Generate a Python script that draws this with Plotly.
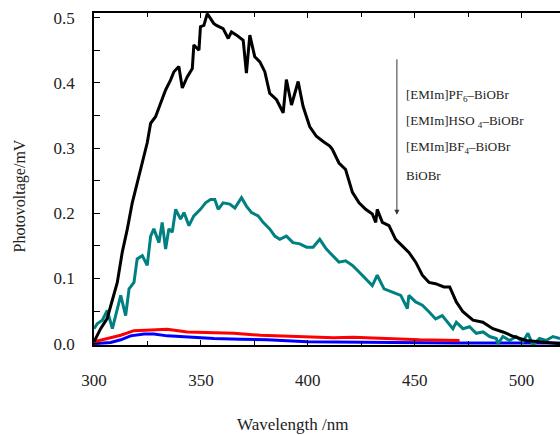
import plotly.graph_objects as go

# ---- data ----
pf6_x = [300, 303.1, 306.2, 308.6, 310.9, 313.2, 315.6, 317.9, 320.2, 322.6, 324.9, 326.5, 328.8,
         331.2, 333.5, 335.8, 337.4, 339.7, 341.3, 343.6, 346.0, 346.7, 349.1, 349.8, 351.4, 353.0,
         356.0, 357.3, 360.4, 362.8, 364.3, 366.7, 369.8, 371.3, 372.9, 375.2, 377.6, 379.9, 382.2,
         385.4, 388.5, 390.0, 392.4, 395.5, 397.8, 400.9, 404.0, 407.2, 410.3, 411.5, 414.6, 417.7,
         420.9, 424.0, 427.1, 430.2, 431.8, 432.5, 434.9, 438.0, 441.1, 444.2, 447.3, 450.5, 453.6,
         456.7, 459.8, 463.7, 466.4, 469.5, 472.6, 477.3, 481.9, 486.6, 491.3, 496.3, 502.2, 508.4, 518.0]
pf6_y = [0.003, 0.023, 0.039, 0.069, 0.094, 0.140, 0.176, 0.216, 0.247, 0.277, 0.308, 0.338, 0.348,
         0.369, 0.389, 0.404, 0.417, 0.425, 0.392, 0.409, 0.422, 0.458, 0.450, 0.486, 0.488, 0.506,
         0.491, 0.488, 0.483, 0.468, 0.478, 0.473, 0.465, 0.415, 0.473, 0.440, 0.432, 0.417, 0.384,
         0.374, 0.354, 0.405, 0.366, 0.402, 0.364, 0.333, 0.318, 0.310, 0.303, 0.298, 0.277, 0.267,
         0.232, 0.216, 0.206, 0.199, 0.186, 0.206, 0.186, 0.181, 0.160, 0.150, 0.140, 0.125, 0.105,
         0.094, 0.092, 0.087, 0.087, 0.064, 0.049, 0.036, 0.033, 0.023, 0.018, 0.011, 0.005, 0.003, 0.000]

hso4_x = [300, 301.6, 303.9, 306.2, 308.6, 310.9, 312.5, 314.8, 316.4, 318.7, 320.2, 322.6, 324.9,
          326.5, 328.0, 330.4, 331.9, 333.5, 335.0, 336.6, 338.2, 340.5, 342.1, 344.4, 346.7, 349.8,
          352.2, 354.5, 356.5, 358.1, 360.4, 363.5, 365.9, 369.0, 371.3, 373.7, 376.8, 379.1, 382.2,
          384.6, 386.9, 390.0, 393.1, 396.3, 399.4, 402.5, 405.6, 408.7, 411.5, 414.6, 417.7, 420.9,
          424.0, 427.1, 430.2, 432.5, 435.7, 439.6, 443.5, 446.6, 447.3, 450.5, 453.6, 456.7, 459.8,
          462.9, 464.8, 467.9, 469.5, 472.6, 475.7, 478.8, 482.0, 485.1, 488.2, 489.0, 491.3, 494.4,
          497.5, 500.6, 503.0, 505.3, 508.4, 511.5, 514.7, 518.0]
hso4_y = [0.023, 0.031, 0.036, 0.051, 0.023, 0.054, 0.074, 0.043, 0.084, 0.094, 0.130, 0.135, 0.120,
          0.165, 0.176, 0.155, 0.186, 0.145, 0.176, 0.171, 0.206, 0.191, 0.201, 0.181, 0.196, 0.206,
          0.216, 0.221, 0.221, 0.206, 0.216, 0.214, 0.208, 0.224, 0.211, 0.201, 0.196, 0.186, 0.176,
          0.165, 0.160, 0.165, 0.155, 0.153, 0.148, 0.148, 0.160, 0.145, 0.135, 0.125, 0.127, 0.120,
          0.110, 0.099, 0.089, 0.105, 0.084, 0.079, 0.074, 0.054, 0.074, 0.064, 0.059, 0.049, 0.038,
          0.043, 0.036, 0.023, 0.033, 0.023, 0.026, 0.016, 0.018, 0.011, 0.008, 0.000, 0.011, 0.005,
          0.011, 0.003, 0.016, -0.002, 0.008, 0.005, 0.011, 0.008]

bf4_x = [300, 306.2, 312.5, 318.7, 328.0, 334.3, 343.6, 356.1, 365.4, 377.9, 387.2, 399.7, 412.1,
         421.2, 436.8, 452.3, 471.0]
bf4_y = [0.003, 0.008, 0.013, 0.020, 0.021, 0.022, 0.018, 0.017, 0.016, 0.013, 0.012, 0.010, 0.009,
         0.010, 0.008, 0.006, 0.005]

biobr_x = [300, 307.8, 312.5, 317.1, 323.4, 328.0, 334.3, 343.6, 356.1, 368.5, 381.0, 399.7, 412.1,
           440.0, 470.0, 500.0, 518.0]
biobr_y = [0.000, 0.002, 0.006, 0.012, 0.015, 0.015, 0.012, 0.010, 0.008, 0.007, 0.006, 0.003, 0.003,
           0.002, 0.001, 0.001, 0.001]

legend_lines = ["[EMIm]PF<sub>6</sub>–BiOBr", "[EMIm]HSO <sub>4</sub>–BiOBr",
                "[EMIm]BF<sub>4</sub>–BiOBr", "BiOBr"]

FONT = "Liberation Serif, Times New Roman, serif"

fig = go.Figure()
fig.add_trace(go.Scatter(x=biobr_x, y=biobr_y, mode="lines", line=dict(color="#0000ff", width=3)))
fig.add_trace(go.Scatter(x=bf4_x, y=bf4_y, mode="lines", line=dict(color="#ff0000", width=3)))
fig.add_trace(go.Scatter(x=hso4_x, y=hso4_y, mode="lines", line=dict(color="#008080", width=3)))
fig.add_trace(go.Scatter(x=pf6_x, y=pf6_y, mode="lines", line=dict(color="#000000", width=3)))

fig.update_layout(
    template="none",
    width=560, height=435,
    margin=dict(l=94, r=0, t=13, b=90, autoexpand=False),
    paper_bgcolor="white", plot_bgcolor="white",
    showlegend=False,
    font=dict(family=FONT, size=17, color="#222"),
)
fig.update_xaxes(
    automargin=False,
    range=[300, 518], tickvals=[300, 350, 400, 450, 500],
    ticks="inside", ticklen=5, tickwidth=1.2, tickcolor="black",
    minor=dict(ticks="inside", dtick=25, ticklen=4, tickcolor="black", showgrid=False),
    showline=True, linecolor="black", linewidth=1.5, mirror="ticks",
    showgrid=False, zeroline=False, ticklabelstandoff=19,
    tickfont=dict(family=FONT, size=17, color="#222"),
)
fig.update_yaxes(
    automargin=False,
    range=[-0.002, 0.507], tickvals=[0, 0.1, 0.2, 0.3, 0.4, 0.5], tickformat=".1f",
    ticks="inside", ticklen=6, tickwidth=1.2, tickcolor="black",
    minor=dict(ticks="inside", dtick=0.05, ticklen=6, tickcolor="black", showgrid=False),
    showline=True, linecolor="black", linewidth=1.5, mirror=False,
    showgrid=False, zeroline=False, ticklabelstandoff=14,
    tickfont=dict(family=FONT, size=17, color="#222"),
)

# axis titles
fig.add_annotation(text="Wavelength /nm", xref="paper", yref="paper", x=0.426, y=-0.24,
                   showarrow=False, font=dict(family=FONT, size=17, color="#222"),
                   xanchor="center", yanchor="middle")
fig.add_annotation(text="Photovoltage/mV", xref="paper", yref="paper", x=-0.159, y=0.45,
                   textangle=-90, showarrow=False, font=dict(family=FONT, size=16, color="#222"),
                   xanchor="center", yanchor="middle")

# arrow
fig.add_annotation(text="", xref="paper", yref="paper", x=0.650, y=0.392, ax=0, ay=-157,
                   showarrow=True, arrowhead=2, arrowsize=1, arrowwidth=1, arrowcolor="#333")

for txt, yy in zip(legend_lines, [0.751, 0.673, 0.594, 0.510]):
    fig.add_annotation(text=txt, xref="paper", yref="paper", x=0.665, y=yy, showarrow=False,
                       xanchor="left", yanchor="middle", font=dict(family=FONT, size=13, color="#222"))

fig.write_html("out.html", config={"displayModeBar": False},
               post_script="document.body.style.margin='0px';")
